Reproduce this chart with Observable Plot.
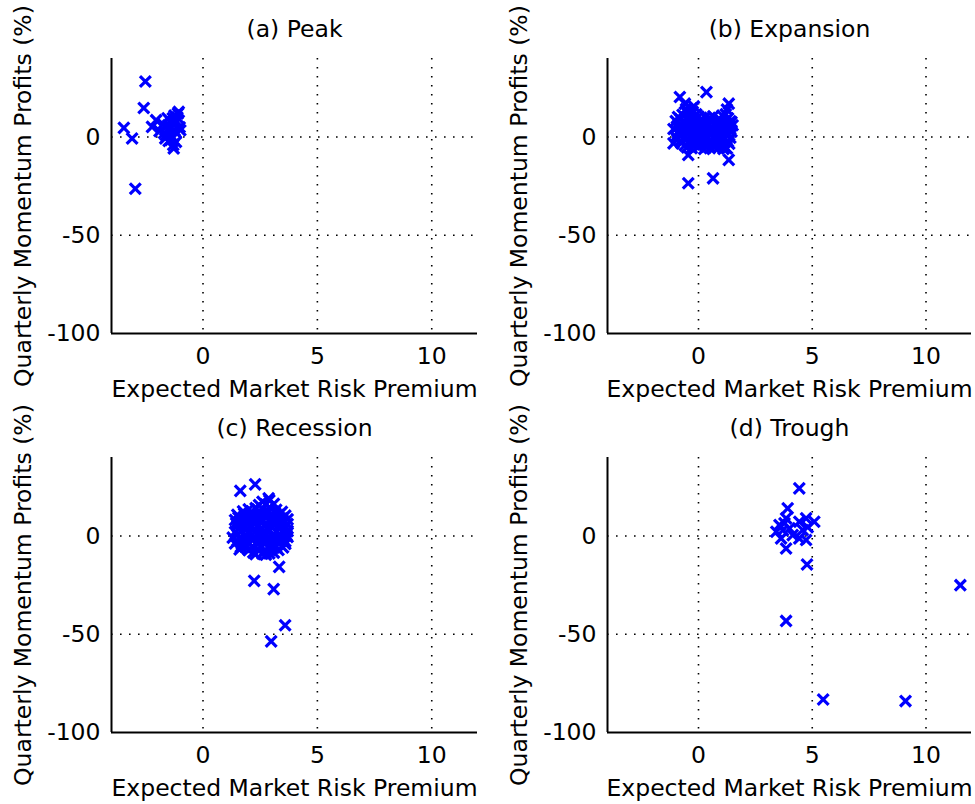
<!DOCTYPE html>
<html><head><meta charset="utf-8">
<script src="https://cdn.jsdelivr.net/npm/d3@7"></script>
<script src="https://cdn.jsdelivr.net/npm/@observablehq/plot@0.6"></script>
<style>
body{margin:0;background:#fff;}
#wrap{position:relative;width:975px;height:804px;overflow:hidden;background:#fff;}
.panel{position:absolute;}
.panel svg{overflow:visible;}
</style></head><body><div id="wrap"></div>
<script>
const xDomain = [-4, 12];
const yDomain = [-100, 40];
const xTicks = [0, 5, 10];
const yTicks = [-100, -50, 0];
const yGrid = [-50, 0];
const xLabel = "Expected Market Risk Premium";
const yLabel = "Quarterly Momentum Profits (%)";
const titles = ["(a) Peak", "(b) Expansion", "(c) Recession", "(d) Trough"];

const peak = [[-2.52,28.3],[-2.59,14.8],[-3.46,4.7],[-3.10,-0.7],[-2.96,-26.3],[-2.05,8.6],[-2.23,5.2],[-1.90,3.0],[-1.75,6.5],[-1.62,1.0],[-1.55,9.5],[-1.50,-2.0],[-1.45,4.0],[-1.40,7.5],[-1.36,0.5],[-1.30,-4.0],[-1.28,-5.8],[-1.25,11.0],[-1.20,2.5],[-1.15,8.0],[-1.10,12.0],[-1.06,12.8],[-1.02,5.0],[-0.99,3.5],[-1.65,-0.7],[-1.42,-1.5],[-1.25,3.5],[-1.52,6.0],[-1.32,9.5],[-1.18,-2.5],[-1.70,2.0],[-1.12,10.0]];

const expansion = [[0.35,22.9],[-0.82,20.4],[1.33,17.0],[-0.45,-23.5],[0.64,-21.0],[1.33,-11.6],[-0.45,-9.1],[-1.1,-3.2],[1.45,7.7],[-0.6,17.0],[-0.31,14.5],
[-0.5,12.3],[-0.1,11.6],[0.3,10.1],[0.9,9.4],[1.2,11.6],
[-0.9,10.2],[-0.4,9.6],[0.0,10.4],[0.5,9.8],[0.8,8.1],[1.3,9.5],
[-1.0,8.1],[-0.6,7.6],[-0.2,8.4],[0.2,7.8],[0.6,8.2],[1.0,7.5],[1.4,8.0],
[-0.8,6.2],[-0.3,5.7],[0.1,6.3],[0.4,5.9],[0.7,6.4],[1.1,5.6],[1.5,6.0],
[-1.1,4.1],[-0.7,3.6],[-0.2,4.3],[0.3,3.8],[0.6,4.4],[0.9,3.7],[1.3,4.2],
[-0.9,2.2],[-0.5,1.7],[-0.1,2.4],[0.2,1.6],[0.5,2.1],[0.8,1.8],[1.2,2.3],
[-1.0,0.2],[-0.6,-0.3],[-0.3,0.4],[0.0,-0.2],[0.4,0.3],[0.7,-0.4],[1.0,0.1],[1.4,-0.3],
[-0.8,-1.8],[-0.4,-2.3],[0.1,-1.6],[0.5,-2.2],[0.9,-1.9],[1.3,-2.4],
[-0.6,-4.2],[-0.2,-3.7],[0.3,-4.4],[0.6,-3.8],[1.1,-4.1],
[-0.5,-5.3],[0.0,-4.9],[0.5,-5.6],[0.9,-5.1],[1.25,-5.8],
[-0.7,11.3],[-0.25,12.8],[0.1,9.0],[0.65,10.6],[1.05,10.9],
[-0.8,9.1],[-0.35,7.2],[0.05,7.9],[0.4,7.1],[0.85,6.9],[1.2,7.2],
[-0.95,5.2],[-0.5,5.0],[-0.05,5.3],[0.55,5.1],[1.0,4.9],[1.4,5.4],
[-0.85,3.1],[-0.4,2.9],[0.05,3.2],[0.45,2.9],[0.75,3.1],[1.1,3.3],[1.45,2.8],
[-0.75,0.9],[-0.15,1.0],[0.25,0.8],[0.55,1.1],[0.9,0.7],[1.25,1.2],
[-0.95,-1.0],[-0.5,-0.9],[-0.1,-1.2],[0.3,-1.0],[0.75,-1.3],[1.15,-0.9],
[-0.75,-3.1],[-0.35,-3.0],[0.0,-2.8],[0.45,-3.2],[0.85,-3.0],[1.35,-3.4],
[-0.3,-5.6],[0.25,-6.1],[0.7,-5.3],[1.1,-6.0],
[-0.55,14.2],[-0.2,15.6],[1.25,14.0]];

const recession = [[1.63,23.0],[2.28,26.3],[3.33,-15.7],[2.24,-22.8],[3.09,-27.0],[3.59,-45.4],[2.98,-53.6],[2.87,19.2],
[2.6,17.5],[2.9,18.2],[3.1,16.4],
[2.0,13.6],[2.3,14.2],[2.6,13.9],[2.9,14.6],[3.2,13.4],
[1.5,10.8],[1.8,11.3],[2.1,10.6],[2.4,11.5],[2.7,10.9],[3.0,11.2],[3.3,10.7],[3.6,10.4],
[1.4,8.2],[1.7,7.7],[2.0,8.4],[2.3,7.9],[2.6,8.3],[2.9,7.6],[3.2,8.1],[3.5,7.8],[3.7,8.5],
[1.5,5.3],[1.8,4.8],[2.1,5.5],[2.4,4.9],[2.7,5.2],[3.0,4.7],[3.3,5.4],[3.6,5.0],
[1.4,2.1],[1.7,2.6],[2.0,1.8],[2.3,2.4],[2.6,1.9],[2.9,2.7],[3.2,2.2],[3.5,1.7],[3.7,2.5],
[1.3,-0.8],[1.6,-1.3],[1.9,-0.6],[2.2,-1.1],[2.5,-0.7],[2.8,-1.4],[3.1,-0.9],[3.4,-1.2],[3.7,-0.5],
[1.4,-3.8],[1.7,-4.3],[2.0,-3.6],[2.4,-4.1],[2.7,-3.9],[3.0,-4.4],[3.3,-3.7],[3.6,-4.0],
[1.6,-6.8],[2.0,-7.2],[2.4,-6.9],[2.7,-7.4],[3.0,-6.6],[3.3,-7.1],
[2.3,-9.2],[2.6,-9.0],[2.9,-8.8],
[1.55,6.8],[2.15,9.6],[2.75,6.6],[3.35,3.6],[1.85,0.4],[2.45,-2.6],[3.05,-2.4],[2.25,3.7],[2.85,12.4],[1.65,-5.5],
[1.55,9.4],[1.85,9.1],[2.45,9.3],[2.75,9.5],[3.05,9.2],[3.45,9.0],
[1.45,6.5],[1.95,6.6],[2.25,6.3],[2.55,6.9],[3.15,6.4],[3.45,6.7],[3.7,6.1],
[1.55,3.6],[1.9,3.3],[2.55,3.4],[2.85,3.8],[3.55,3.4],
[1.5,0.7],[2.15,0.5],[2.45,0.9],[2.75,0.3],[3.05,0.6],[3.35,0.8],[3.65,0.4],
[1.5,-2.4],[1.8,-2.7],[2.15,-2.2],[2.75,-2.5],[3.3,-2.3],[3.6,-2.7],
[1.85,-5.4],[2.2,-5.6],[2.55,-5.3],[2.85,-5.7],[3.2,-5.5],[3.5,-5.8],
[1.75,12.6],[2.15,12.2],[2.45,12.8],[3.15,12.0],[3.45,12.3],
[2.45,15.8],[2.75,16.1],[2.2,-8.4],[2.75,-9.5],[3.1,-8.5]];

const trough = [[4.43,24.3],[11.51,-25.0],[3.85,-6.3],[4.77,-14.5],[3.85,-43.2],[5.48,-83.2],[9.10,-84.0],
[3.92,14.1],[3.85,9.0],[3.56,5.6],[3.42,2.2],[3.71,3.0],[4.00,3.9],[3.63,-1.2],[4.14,0.5],[3.78,6.5],
[4.73,9.0],[5.09,7.3],[4.43,7.3],[4.58,3.1],[4.43,-1.2],[4.73,-2.0],[4.80,4.5]];

const series = [peak, expansion, recession, trough];

const layout = [
  {left: 0, top: 0, w: 488, h: 402, ml: 111, mr: 11, mt: 58, mb: 69},
  {left: 488, top: 0, w: 487, h: 402, ml: 119, mr: 4, mt: 58, mb: 69},
  {left: 0, top: 400, w: 488, h: 404, ml: 111, mr: 11, mt: 57, mb: 72},
  {left: 488, top: 400, w: 487, h: 404, ml: 119, mr: 4, mt: 57, mb: 72}
];

const FONT = "'DejaVu Sans', 'Liberation Sans', sans-serif";
const grid = {stroke: "#000", strokeWidth: 1.6, strokeDasharray: "1.6,7.4"};
const fmt = d => String(d);

function panel(points, title, L) {
  const data = points.map(([x, y]) => ({x, y}));
  return Plot.plot({
    width: L.w, height: L.h,
    marginLeft: L.ml, marginRight: L.mr, marginTop: L.mt, marginBottom: L.mb,
    style: {fontFamily: FONT, fontSize: "23.5px", color: "#000", background: "transparent", overflow: "visible"},
    x: {domain: xDomain},
    y: {domain: yDomain},
    marks: [
      Plot.ruleX(xTicks, grid),
      Plot.ruleY(yGrid, grid),
      Plot.dot(data, {x: "x", y: "y", symbol: "times", r: 5, stroke: "#0000ff", strokeWidth: 3.2}),
      Plot.ruleX([xDomain[0]], {stroke: "#000", strokeWidth: 2}),
      Plot.ruleY([yDomain[0]], {stroke: "#000", strokeWidth: 2}),
      Plot.axisX(xTicks, {tickSize: 0, tickPadding: 14, tickFormat: fmt, label: xLabel, labelAnchor: "center", labelArrow: "none", labelOffset: 63}),
      Plot.axisY(yTicks, {tickSize: 0, tickPadding: 11, tickFormat: fmt, label: yLabel, labelAnchor: "center", labelArrow: "none", labelOffset: 97}),
      Plot.text([title], {frameAnchor: "top", lineAnchor: "middle", dy: -29})
    ]
  });
}

const wrap = document.getElementById("wrap");
series.forEach((pts, i) => {
  const L = layout[i];
  const div = document.createElement("div");
  div.className = "panel";
  div.style.left = L.left + "px";
  div.style.top = L.top + "px";
  div.appendChild(panel(pts, titles[i], L));
  wrap.appendChild(div);
});
</script>
</body></html>
